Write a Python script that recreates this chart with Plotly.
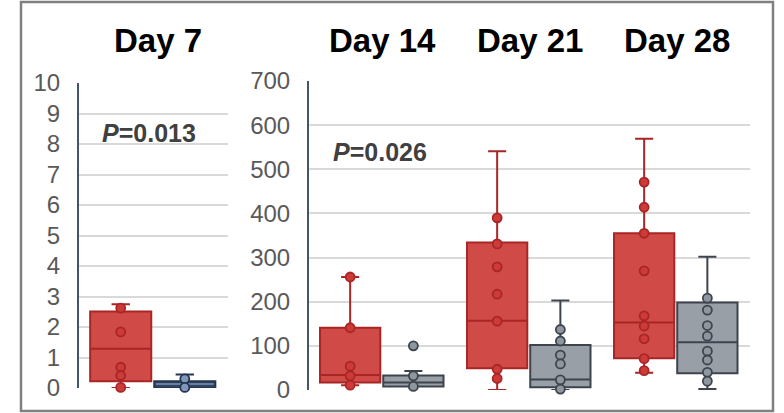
import plotly.graph_objects as go

# ---- data ----
# Day 7 panel (left axis, 0-10)
d7_groups = ["treated", "control"]
d7_q1 = [0.22, 0.0]
d7_median = [1.29, 0.13]
d7_q3 = [2.51, 0.22]
d7_low = [0.0, 0.0]
d7_high = [2.75, 0.44]
d7_points = [[2.62, 1.84, 0.68, 0.41, 0.02], [0.3, 0.02]]

# Day 14 / 21 / 28 panel (right axis, 0-700)
days = ["Day 14", "Day 21", "Day 28"]
red_q1 = [17, 49, 72]
red_median = [34, 157, 153]
red_q3 = [141, 334, 355]
red_low = [11, 0, 39]
red_high = [256, 541, 569]
red_points = [
    [256, 141, 54, 32, 11],
    [390, 331, 279, 217, 156, 47, 26],
    [471, 414, 355, 270, 168, 145, 116, 71, 44],
]
gray_q1 = [8, 6, 38]
gray_median = [17, 24, 108]
gray_q3 = [33, 102, 198]
gray_low = [8, 0, 2]
gray_high = [43, 203, 302]
gray_points = [
    [100, 32, 8],
    [137, 111, 79, 59, 23, 2],
    [208, 181, 146, 122, 88, 68, 40, 20],
]

titles = ["Day 7"] + days
p_values = ["0.013", "0.026"]

# ---- styling ----
RED_FILL = "rgb(208,75,71)"
RED_LINE = "rgb(168,38,38)"
RED_PT = "rgb(205,58,56)"
GRAY_FILL = "rgb(152,159,167)"
GRAY_LINE = "rgb(62,68,77)"
GRAY_PT = "rgb(142,150,159)"
NAVY_FILL = "rgb(50,69,96)"
NAVY_LINE = "rgb(38,54,80)"
NAVY_PT = "rgb(126,152,188)"
FONT = "Liberation Sans, Arial, sans-serif"

OFF_RED, OFF_GRAY, BOXW = -0.22, 0.21, 0.41

fig = go.Figure()


def add_box(xpos, q1, med, q3, lo, hi, fill, line, pts, ptcol, xa, ya, median_color=None):
    fig.add_trace(go.Box(
        x=[xpos], q1=[q1], median=[med], q3=[q3], lowerfence=[lo], upperfence=[hi],
        width=BOXW, whiskerwidth=0.3, fillcolor=fill,
        line=dict(color=line, width=2), boxpoints=False,
        xaxis=xa, yaxis=ya, showlegend=False, hoverinfo="skip",
    ))
    if median_color:
        fig.add_trace(go.Scatter(
            x=[xpos - BOXW / 2 + 0.01, xpos + BOXW / 2 - 0.01], y=[med, med], mode="lines",
            line=dict(color=median_color, width=1.5),
            xaxis=xa, yaxis=ya, showlegend=False, hoverinfo="skip",
        ))
    fig.add_trace(go.Scatter(
        x=[xpos] * len(pts), y=pts, mode="markers",
        marker=dict(size=9, color=ptcol, line=dict(color=line, width=1.8)),
        cliponaxis=False, xaxis=xa, yaxis=ya, showlegend=False, hoverinfo="skip",
    ))


# Day 7
add_box(OFF_RED, d7_q1[0], d7_median[0], d7_q3[0], d7_low[0], d7_high[0],
        RED_FILL, RED_LINE, d7_points[0], RED_PT, "x", "y")
add_box(OFF_GRAY, d7_q1[1], d7_median[1], d7_q3[1], d7_low[1], d7_high[1],
        NAVY_FILL, NAVY_LINE, d7_points[1], NAVY_PT, "x", "y", median_color=NAVY_PT)

# Days 14-28
for i in range(len(days)):
    add_box(i + OFF_RED, red_q1[i], red_median[i], red_q3[i], red_low[i], red_high[i],
            RED_FILL, RED_LINE, red_points[i], RED_PT, "x2", "y2")
    add_box(i + OFF_GRAY, gray_q1[i], gray_median[i], gray_q3[i], gray_low[i], gray_high[i],
            GRAY_FILL, GRAY_LINE, gray_points[i], GRAY_PT, "x2", "y2")

W, H = 784, 413
left_dom = [79 / W, 228 / W]
right_dom = [309 / W, 750 / W]

axis_common = dict(
    showgrid=True, gridcolor="#D9D9D9", gridwidth=2,
    zeroline=False, showline=True, linecolor="#44546A", linewidth=2,
    ticks="", ticklabelstandoff=12,
    tickfont=dict(family=FONT, size=24, color="#595959"),
    fixedrange=True, automargin=False,
)
xaxis_common = dict(showticklabels=False, showgrid=False, zeroline=False,
                    showline=False, fixedrange=True, automargin=False)

fig.update_layout(
    width=W, height=H, autosize=False,
    margin=dict(l=0, r=0, t=0, b=0, pad=0, autoexpand=False),
    paper_bgcolor="white", plot_bgcolor="white",
    xaxis=dict(domain=left_dom, range=[-0.5, 0.5], **xaxis_common),
    yaxis=dict(domain=[25 / H, 330 / H], range=[0, 10], dtick=1, anchor="x", **axis_common),
    xaxis2=dict(domain=right_dom, range=[-0.5, 2.5], **xaxis_common),
    yaxis2=dict(domain=[23 / H, 332 / H], range=[0, 700], dtick=100, anchor="x2", **axis_common),
    showlegend=False,
)

# outer frame
fig.add_shape(type="rect", xref="paper", yref="paper",
              x0=21 / W, x1=773 / W, y0=2 / H, y1=(H - 2) / H,
              line=dict(color="#808080", width=2.5), fillcolor="rgba(0,0,0,0)")

# panel titles
title_font = dict(family=FONT, size=33, color="black")
fig.add_annotation(text="<b>" + titles[0] + "</b>", x=0.03, xref="x", y=(H - 40) / H, yref="paper",
                   showarrow=False, font=title_font, xanchor="center", yanchor="middle")
for i, d in enumerate(days):
    fig.add_annotation(text="<b>" + d + "</b>", x=i, xref="x2", y=(H - 40) / H, yref="paper",
                       showarrow=False, font=title_font, xanchor="center", yanchor="middle")

# p-values
p_font = dict(family=FONT, size=25, color="#404040")
fig.add_annotation(text="<b><i>P</i>=" + p_values[0] + "</b>", x=-0.36, xref="x", y=8.36, yref="y",
                   showarrow=False, font=p_font, xanchor="left", yanchor="middle")
fig.add_annotation(text="<b><i>P</i>=" + p_values[1] + "</b>", x=-0.35, xref="x2", y=540, yref="y2",
                   showarrow=False, font=p_font, xanchor="left", yanchor="middle")

fig.write_html("out.html")
